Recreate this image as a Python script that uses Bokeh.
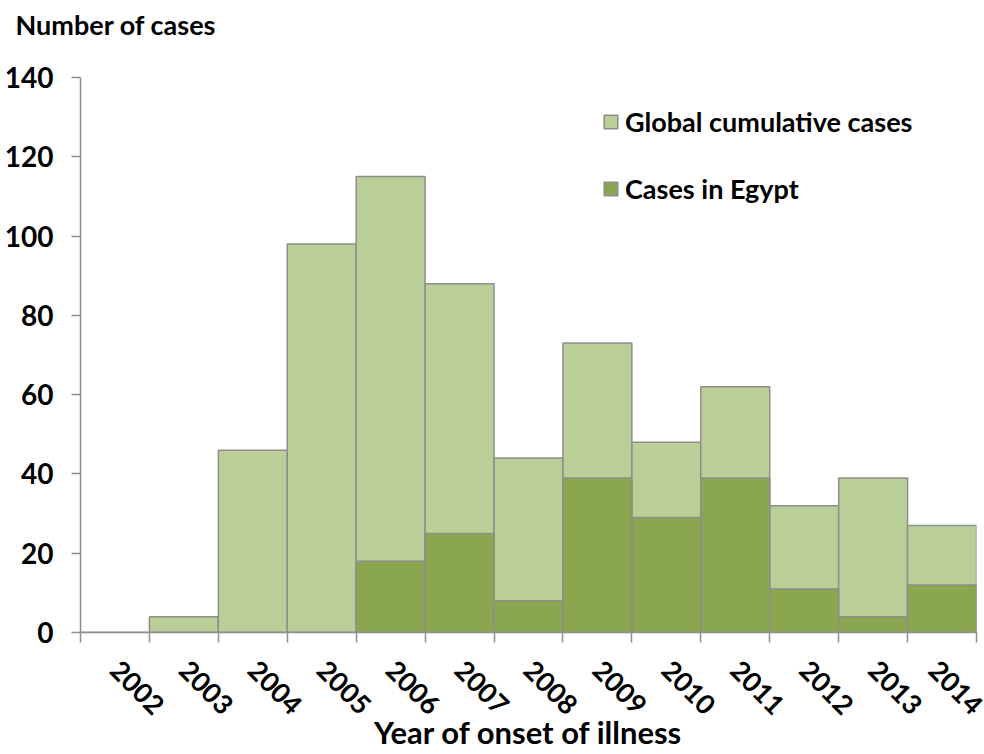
import math
from bokeh.plotting import figure
from bokeh.models import FixedTicker, Legend, LegendItem, Range1d, ColumnDataSource
from bokeh.embed import file_html
from bokeh.resources import INLINE

# ---- data ----
years = [2002, 2003, 2004, 2005, 2006, 2007, 2008, 2009, 2010, 2011, 2012, 2013, 2014]
global_cases = [0, 4, 46, 98, 115, 88, 44, 73, 48, 62, 32, 39, 27]
egypt_cases = [0, 0, 0, 0, 18, 25, 8, 39, 29, 39, 11, 4, 12]
y_ticks = [0, 20, 40, 60, 80, 100, 120, 140]
y_title = "Number of cases"
x_title = "Year of onset of illness"
series_names = ["Global cumulative cases", "Cases in Egypt"]

# ---- style ----
FONT = "Lato"
LIGHT = "#BACF98"
DARK = "#8AA64E"
EDGE = "#8E8E8E"
AXIS = "#8E8E8E"

x_lo = years[0] - 0.5
x_hi = years[-1] + 0.5
boundaries = [y - 0.5 for y in years] + [years[-1] + 0.5]

src = ColumnDataSource(dict(year=years, total=global_cases, egypt=egypt_cases))

p = figure(width=984, height=754, output_backend="svg", toolbar_location=None,
           x_range=Range1d(x_lo, x_hi), y_range=Range1d(y_ticks[0], y_ticks[-1]),
           min_border_left=80, min_border_right=8, min_border_top=77,
           min_border_bottom=122)
p.outline_line_color = None
p.xgrid.visible = False
p.ygrid.visible = False

# title (y-axis caption, top left); a blank second line lifts it higher
p.title.text = y_title + "\n "
p.title.align = "left"
p.title.vertical_align = "top"
p.title.offset = -65
p.title.standoff = 4
p.title.text_font = FONT
p.title.text_font_style = "bold"
p.title.text_font_size = "27px"
p.title.text_color = "black"

r1 = p.vbar(x="year", top="total", width=1, source=src, fill_color=LIGHT,
            line_color=EDGE, line_width=1.5)
r2 = p.vbar(x="year", top="egypt", width=1, source=src, fill_color=DARK,
            line_color=EDGE, line_width=1.5)

# y axis
ya = p.yaxis[0]
ya.ticker = FixedTicker(ticks=y_ticks)
ya.axis_line_color = AXIS
ya.axis_line_width = 1.5
ya.major_tick_line_color = AXIS
ya.major_tick_line_width = 1.5
ya.major_tick_out = 9
ya.major_tick_in = 0
ya.minor_tick_line_color = None
ya.major_label_text_font = FONT
ya.major_label_text_font_style = "bold"
ya.major_label_text_font_size = "28px"
ya.major_label_text_color = "black"
ya.major_label_standoff = 18

# x axis
xa = p.xaxis[0]
xa.ticker = FixedTicker(ticks=years, minor_ticks=boundaries)
xa.major_label_overrides = {y: str(y) for y in years}
xa.axis_line_color = AXIS
xa.axis_line_width = 1.5
xa.major_tick_line_color = None
xa.major_tick_out = 0
xa.major_tick_in = 0
xa.minor_tick_line_color = AXIS
xa.minor_tick_line_width = 1.5
xa.minor_tick_out = 10
xa.minor_tick_in = 0
xa.major_label_orientation = -math.pi / 4
xa.major_label_text_font = FONT
xa.major_label_text_font_style = "bold"
xa.major_label_text_font_size = "27px"
xa.major_label_text_color = "black"
xa.major_label_standoff = 23
xa.axis_label = x_title
xa.axis_label_standoff = -13
xa.axis_label_text_font = FONT
xa.axis_label_text_font_style = "bold"
xa.axis_label_text_font_size = "31px"
xa.axis_label_text_color = "black"

legend = Legend(items=[LegendItem(label=series_names[0], renderers=[r1]),
                       LegendItem(label=series_names[1], renderers=[r2])],
                location=(522, 427), border_line_color=None,
                background_fill_alpha=0, padding=0, margin=0,
                glyph_width=17, glyph_height=17, label_standoff=6, spacing=34,
                label_text_font=FONT, label_text_font_style="bold",
                label_text_font_size="27px", label_text_color="black")
p.add_layout(legend)

open("out.html", "w").write(file_html(p, INLINE))
